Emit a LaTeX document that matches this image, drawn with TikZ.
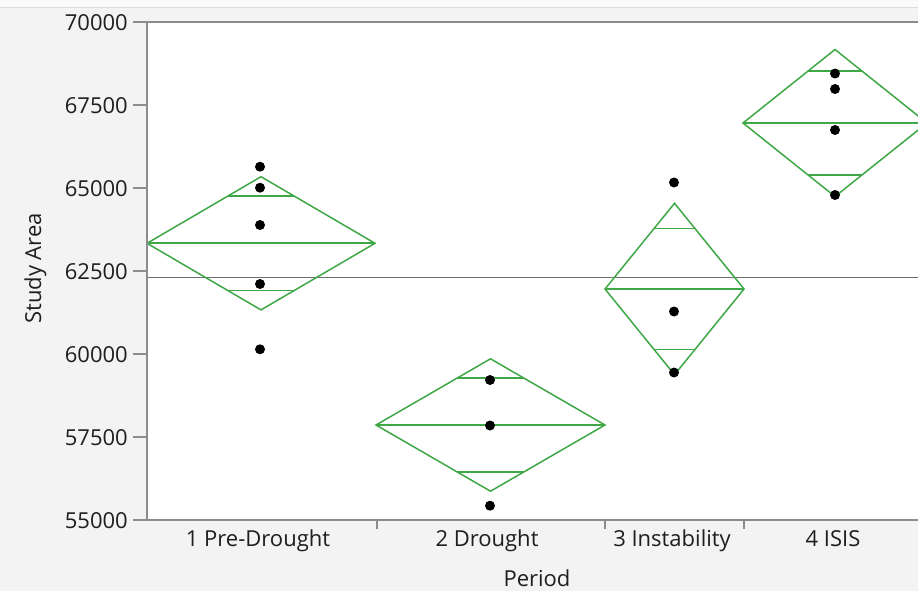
\documentclass[tikz,border=0pt]{standalone}
\usepackage{fontspec}
\setmainfont{Open Sans}
\definecolor{bgc}{RGB}{243,243,243}
\definecolor{topc}{RGB}{250,250,250}
\definecolor{axc}{RGB}{140,140,140}
\definecolor{gm}{RGB}{110,110,110}
\definecolor{grn}{RGB}{62,168,70}
\definecolor{txt}{RGB}{30,30,30}
\tikzset{
  dmdline/.style={draw=grn,line width=1.5pt,line join=miter},
  meanline/.style={draw=grn,line width=1.8pt},
  axline/.style={draw=axc,line width=1.3pt},
  tickline/.style={draw=axc,line width=1.1pt},
  dot/.style={circle,fill=black,inner sep=0pt,minimum size=10pt},
  ticklab/.style={anchor=base east,text=txt,font=\fontsize{22}{26}\selectfont,inner sep=0pt},
  catlab/.style={anchor=base,text=txt,font=\fontsize{22}{26}\selectfont,inner sep=0pt},
}
\newcommand\diamondgrp[4]{%
  \pgfmathsetmacro\dcx{(#1+#2)/2}%
  \pgfmathsetmacro\dhw{0.29289*(#2-#1)/2}%
  \pgfmathsetmacro\ddy{0.70711*#4}%
  \draw[dmdline] (#1,#3) -- (\dcx,#3-#4) -- (#2,#3) -- (\dcx,#3+#4) -- cycle;
  \draw[meanline] (#1,#3) -- (#2,#3);
  \draw[dmdline] (\dcx-\dhw,#3-\ddy) -- (\dcx+\dhw,#3-\ddy);
  \draw[dmdline] (\dcx-\dhw,#3+\ddy) -- (\dcx+\dhw,#3+\ddy);
}
\begin{document}
\begin{tikzpicture}[x=1pt,y=-1pt]
\useasboundingbox (0,0) rectangle (918,591);
\fill[bgc] (0,0) rectangle (918,591);
\fill[topc] (0,0) rectangle (918,7);
\draw[draw={rgb,255:red,220;green,220;blue,220},line width=0.8pt] (0,7) -- (918,7);
% plot area
\fill[white] (147,22) rectangle (918,520);
% grand mean
\draw[gm,line width=1.3pt] (147,277.3) -- (918,277.3);
% diamonds
\begin{scope}
\clip (147,22) rectangle (918,520);
\diamondgrp{147}{375}{243.3}{66.6}
\diamondgrp{376}{605}{425}{66.2}
\diamondgrp{605}{744}{289}{85.7}
\diamondgrp{743}{927}{123}{73.5}
\end{scope}
% points
\foreach \yy [count=\i] in {166.7,187.7,225,284,349.3} \node[dot] (pa\i) at (260,\yy) {};
\foreach \yy [count=\i] in {380,425.5,505.7} \node[dot] (pb\i) at (490,\yy) {};
\foreach \yy [count=\i] in {182.5,311.5,372.5} \node[dot] (pc\i) at (674,\yy) {};
\foreach \yy [count=\i] in {73.5,89,130,195} \node[dot] (pd\i) at (835,\yy) {};
% frame
\draw[axline] (147,22) -- (918,22);
\draw[axline] (147,520) -- (918,520);
\draw[axline] (147,22) -- (147,520);
% y ticks
\foreach \v/\yy in {70000/22,67500/105,65000/188,62500/271,60000/354,57500/437,55000/520}{
  \draw[tickline] (133,\yy) -- (147,\yy);
  \node[ticklab] at (128,\yy+8.2) {\v};
}
% x ticks
\foreach \xx in {377,605,744} \draw[tickline] (\xx,520) -- (\xx,529);
\node[catlab] (c1) at (258,546.5) {1 Pre-Drought};
\node[catlab] (c2) at (487,546.5) {2 Drought};
\node[catlab] (c3) at (672,546.5) {3 Instability};
\node[catlab] (c4) at (833,546.5) {4 ISIS};
\node[catlab] (px) at (537,586) {Period};
\node[catlab,rotate=90] (py) at (41,268.5) {Study Area};
\end{tikzpicture}
\end{document}
